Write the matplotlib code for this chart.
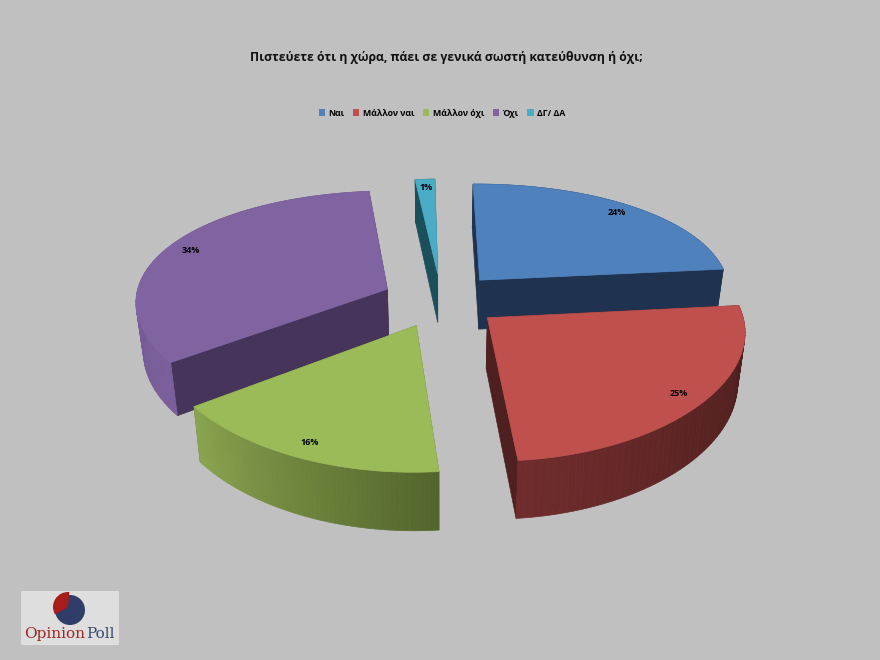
import numpy as np
import matplotlib
matplotlib.use("Agg")
from matplotlib import pyplot as plt
from matplotlib.patches import Polygon, Rectangle, Circle, Wedge

title = "Πιστεύετε ότι η χώρα, πάει σε γενικά σωστή κατεύθυνση ή όχι;"
categories = ["Ναι", "Μάλλον ναι", "Μάλλον όχι", "Όχι", "ΔΓ/ ΔΑ"]
# shares, the labels show them rounded
values = [23.6, 25.2, 16.3, 33.5, 1.4]

top_colors = ["#4f81bd", "#c0504d", "#9bbb59", "#8064a2", "#4bacc6"]
wall_colors = ["#1f3350", "#4f2020", "#5c7030", "#46345a", "#1c4f5c"]
rim_start = ["#1f3350", "#451b1b", "#53652c", "#7a5f9c", "#1c4f5c"]
rim_end = ["#1f3350", "#702c2c", "#8aa54f", "#6a5086", "#1c4f5c"]

# pie geometry in pixels
CX, CY = 441, 300
A, B, DEPTH = 252, 116, 50
EXPLODE = 0.235
START = -0.8


def proj(x, y, z=0.0):
    wx = 1 / (1 - 0.1 * y)
    wy = 1 / (1 - 0.15 * y)
    wz = 1 / (1 - 0.12 * y)
    return (CX + A * x * wx * (1 - 0.025 * z), CY + B * y * wy + DEPTH * z * wz)


def polar(a, r=1.0):
    return r * np.sin(np.radians(a)), -r * np.cos(np.radians(a))


plt.rcParams["font.family"] = ["Open Sans", "DejaVu Sans"]
fig = plt.figure(figsize=(8.8, 6.6), dpi=100, facecolor="#c0c0c0")
ax = fig.add_axes([0, 0, 1, 1])
ax.set_xlim(0, 880)
ax.set_ylim(660, 0)
ax.axis("off")

# start angles of the slices, clockwise from the top
total = sum(values)
starts = START + 360 * np.concatenate([[0], np.cumsum(values)[:-1]]) / total
sweeps = 360 * np.array(values) / total


def mix(c1, c2, t):
    a = np.array(matplotlib.colors.to_rgb(c1))
    b = np.array(matplotlib.colors.to_rgb(c2))
    return tuple(a + (b - a) * t)


def draw_slice(i, z):
    s, sw = starts[i], sweeps[i]
    ex, ey = polar(s + sw / 2, EXPLODE)
    arc = np.linspace(s, s + sw, 60)
    rx = ex + np.sin(np.radians(arc))
    ry = ey - np.cos(np.radians(arc))

    # the two cut walls
    for k in (0, -1):
        wall = [proj(ex, ey), proj(rx[k], ry[k]), proj(rx[k], ry[k], 1), proj(ex, ey, 1)]
        ax.add_patch(Polygon(wall, fc=wall_colors[i], ec=wall_colors[i], lw=0.5, zorder=z))

    # outer rim in thin strips
    for j in range(len(arc) - 1):
        strip = [proj(rx[j], ry[j]), proj(rx[j + 1], ry[j + 1]),
                 proj(rx[j + 1], ry[j + 1], 1), proj(rx[j], ry[j], 1)]
        col = mix(rim_start[i], rim_end[i], j / (len(arc) - 2))
        ax.add_patch(Polygon(strip, fc=col, ec=col, lw=0.5, zorder=z))

    # top face
    pts = [proj(ex, ey)] + [proj(x, y) for x, y in zip(rx, ry)]
    ax.add_patch(Polygon(pts, fc=top_colors[i], ec=top_colors[i], lw=0.5, zorder=z))

    lx, ly = polar(s + sw / 2, 0.9)
    tx, ty = proj(ex + lx, ey + ly)
    ax.text(tx, ty, "%d%%" % round(values[i]), fontsize=6.5, fontweight="bold", color="black",
            ha="center", va="center", zorder=30)


# back slices first: cyan, blue, purple, green, red
for rank, idx in enumerate([4, 0, 3, 2, 1]):
    draw_slice(idx, 10 + rank)

ax.text(446, 58, title, fontsize=8.8, fontweight="bold", color="#111111", ha="center", va="center")

handles = [Rectangle((0, 0), 1, 1, fc=c, ec="none") for c in top_colors]
ax.legend(handles, categories, loc="center", bbox_to_anchor=(442 / 880, 1 - 113 / 660), ncol=5,
          frameon=False, handlelength=0.7, handleheight=0.7, handletextpad=0.4,
          columnspacing=1.0, prop={"size": 6.3, "weight": "bold"})

# logo
ax.add_patch(Rectangle((21, 591), 98, 54, fc="#dedede", ec="none"))
ax.add_patch(Circle((70, 610), 15, fc="#2f3d68", ec="none"))
ax.add_patch(Wedge((68, 607), 15, 150, 275, fc="#a81c1c", ec="none"))
ax.text(24, 634, "Opinion", family="DejaVu Serif", fontsize=11, color="#a02525", ha="left", va="center")
ax.text(115, 634, "Poll", family="DejaVu Serif", fontsize=11, color="#3a4a70", ha="right", va="center")

fig.savefig("out.png", dpi=100, facecolor=fig.get_facecolor())
